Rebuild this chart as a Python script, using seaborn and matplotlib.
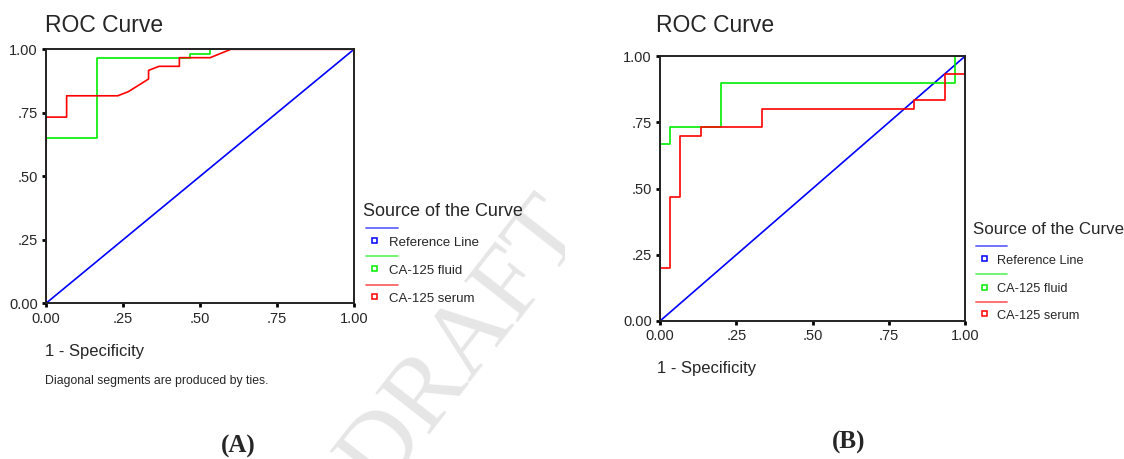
import numpy as np
import pandas as pd
import matplotlib
matplotlib.use("Agg")
import matplotlib.pyplot as plt
from matplotlib.lines import Line2D
from matplotlib.patches import Rectangle
import seaborn as sns

# ROC vertices (1 - specificity, sensitivity)
a_fluid_fpr = [0, 0, 0.167, 0.167, 0.467, 0.467, 0.533, 0.533, 1.0]
a_fluid_tpr = [0, 0.65, 0.65, 0.967, 0.967, 0.983, 0.983, 1.0, 1.0]
a_serum_fpr = [0, 0, 0.067, 0.067, 0.233, 0.267, 0.333, 0.333, 0.367, 0.433, 0.433, 0.533, 0.6, 1.0]
a_serum_tpr = [0, 0.733, 0.733, 0.817, 0.817, 0.833, 0.883, 0.917, 0.933, 0.933, 0.967, 0.967, 1.0, 1.0]

b_fluid_fpr = [0, 0, 0.033, 0.033, 0.2, 0.2, 0.967, 0.967, 1.0]
b_fluid_tpr = [0, 0.667, 0.667, 0.733, 0.733, 0.9, 0.9, 1.0, 1.0]
b_serum_fpr = [0, 0, 0.033, 0.033, 0.067, 0.067, 0.133, 0.133, 0.333, 0.333,
               0.833, 0.833, 0.933, 0.933, 1.0, 1.0]
b_serum_tpr = [0, 0.2, 0.2, 0.467, 0.467, 0.7, 0.7, 0.733, 0.733, 0.8,
               0.8, 0.833, 0.833, 0.933, 0.933, 1.0]

ref_x = [0, 1]
ref_y = [0, 1]

series_names = ["Reference Line", "CA-125 fluid", "CA-125 serum"]
colors = {"Reference Line": "#0000ff", "CA-125 fluid": "#00ee00", "CA-125 serum": "#ff0000"}
tick_vals = [0, 0.25, 0.5, 0.75, 1.0]
tick_labels = ["0.00", ".25", ".50", ".75", "1.00"]


def long_df(fluid_x, fluid_y, serum_x, serum_y):
    parts = [
        pd.DataFrame({"fpr": ref_x, "tpr": ref_y, "src": "Reference Line"}),
        pd.DataFrame({"fpr": fluid_x, "tpr": fluid_y, "src": "CA-125 fluid"}),
        pd.DataFrame({"fpr": serum_x, "tpr": serum_y, "src": "CA-125 serum"}),
    ]
    return pd.concat(parts, ignore_index=True)


sns.set_style("white")
plt.rcParams["font.family"] = ["Liberation Sans", "DejaVu Sans"]

W, H = 1124, 459
fig = plt.figure(figsize=(W / 100, H / 100), dpi=100)


def px(x, y):
    return x / W, 1 - y / H


# faint watermark behind the left panel (cut at the legend's white box)
wm = fig.text(*px(465, 345), "DRAFT", fontsize=74, color="#e6e6e6",
              family="Liberation Serif", rotation=52, ha="center", va="center", zorder=0)
wm.set_clip_path(Rectangle((0, 0), 565 / W, 1, transform=fig.transFigure))

panels = [
    (long_df(a_fluid_fpr, a_fluid_tpr, a_serum_fpr, a_serum_tpr), (46, 49.3, 354, 303.3)),
    (long_df(b_fluid_fpr, b_fluid_tpr, b_serum_fpr, b_serum_tpr), (660, 56, 965.3, 321)),
]

axes = []
for df, (x0, y0, x1, y1) in panels:
    ax = fig.add_axes([x0 / W, 1 - y1 / H, (x1 - x0) / W, (y1 - y0) / H])
    ax.patch.set_alpha(0)
    sns.lineplot(data=df, x="fpr", y="tpr", hue="src", palette=colors,
                 sort=False, estimator=None, legend=False, ax=ax, linewidth=1.2)
    ax.set_xlim(0, 1)
    ax.set_ylim(0, 1)
    ax.set_xticks(tick_vals)
    ax.set_xticklabels(tick_labels)
    ax.set_yticks(tick_vals)
    ax.set_yticklabels(tick_labels)
    ax.set_xlabel("")
    ax.set_ylabel("")
    ax.tick_params(direction="out", length=3, width=2, color="black",
                   labelsize=10.5, pad=3, left=True, bottom=True)
    for s in ax.spines.values():
        s.set_visible(True)
        s.set_color("#222222")
        s.set_linewidth(1.4)
    axes.append(ax)


def draw_legend(x0, y_title, y_lines, y_marks, y_labels, line_end, tsize, lsize, lab_dx):
    fig.text(*px(x0, y_title), "Source of the Curve", fontsize=tsize, va="center", ha="left")
    for name, yl, ym, yt in zip(series_names, y_lines, y_marks, y_labels):
        fx0, fy = px(x0 + 2.4, yl)
        fx1, _ = px(x0 + line_end, yl)
        fig.add_artist(Line2D([fx0, fx1], [fy, fy], color=colors[name], lw=1.3, alpha=0.6))
        mx, my = px(x0 + 11, ym)
        fig.add_artist(Line2D([mx], [my], marker="s", markersize=3.6, markerfacecolor="none",
                              markeredgecolor=colors[name], markeredgewidth=1.1, linestyle=""))
        fig.text(*px(x0 + lab_dx, yt), name, fontsize=lsize, va="center", ha="left")


draw_legend(363.3, 211.7, [227.7, 255.7, 285], [240, 268, 296], [243.3, 271, 298.7],
            34.4, 13, 9.5, 25.5)
draw_legend(973.3, 230, [246, 274, 301.7], [258.3, 286.7, 312.7], [261, 289, 316],
            33.4, 12.2, 9.2, 24)

# titles, axis captions and panel tags
fig.text(*px(45, 25), "ROC Curve", fontsize=16.5, va="center", ha="left")
fig.text(*px(656, 25), "ROC Curve", fontsize=16.5, va="center", ha="left")
fig.text(*px(45, 351.7), "1 - Specificity", fontsize=12, va="center", ha="left")
fig.text(*px(657, 369), "1 - Specificity", fontsize=12, va="center", ha="left")
fig.text(*px(45, 381), "Diagonal segments are produced by ties.", fontsize=8.8,
         va="center", ha="left")
fig.text(*px(238, 446), "(A)", fontsize=18, weight="bold", family="Liberation Serif",
         va="center", ha="center")
fig.text(*px(849, 442), "(B)", fontsize=18, weight="bold", family="Liberation Serif",
         va="center", ha="center")

fig.savefig("out.png", dpi=100)
